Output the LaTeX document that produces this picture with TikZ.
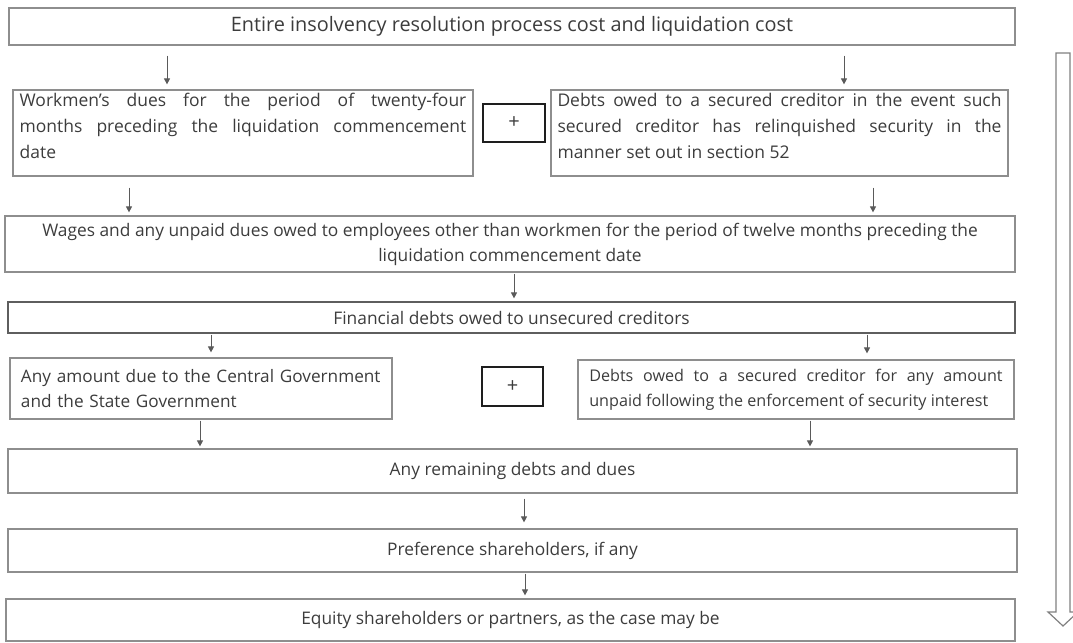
\documentclass[tikz,border=0pt]{standalone}
\usepackage{fontspec}
\setmainfont{Open Sans}
\usetikzlibrary{arrows.meta}

\definecolor{boxedge}{HTML}{8E8E8E}
\definecolor{darkedge}{HTML}{5E5E5E}
\definecolor{plusedge}{HTML}{1E1E1E}
\definecolor{arrowgray}{HTML}{5A5A5A}
\definecolor{txt}{HTML}{3C3C3C}

% a box given by its corners (x1,y1) and (x2,y2), in pixel units
\newcommand\flowbox[7]{%
  \node[#6, minimum width={(#4-#2)*0.75pt}, minimum height={(#5-#3)*0.75pt}]
    (#1) at ({(#2+#4)/2},{(#3+#5)/2}) {#7};}

\begin{document}
\begin{tikzpicture}[x=0.75pt, y=-0.75pt,
  every node/.style={inner sep=0pt, text=txt},
  stepbox/.style={draw=boxedge, line width=0.9pt, font=\fontsize{13pt}{19pt}\selectfont},
  darkbox/.style={stepbox, draw=darkedge},
  plusbox/.style={draw=plusedge, line width=0.9pt, font=\fontsize{15pt}{16pt}\selectfont},
  arr/.style={draw=arrowgray, line width=0.7pt, -{Triangle[width=4.5pt,length=4.5pt]}},
  bigarrow/.style={draw=boxedge!90!black, line width=0.9pt, fill=white}
]
\useasboundingbox (0,0) rectangle (1073,642);

% priority levels
\flowbox{b1}{9}{8}{1015}{45}{stepbox, font=\fontsize{14.9pt}{17pt}\selectfont}
  {Entire insolvency resolution process cost and liquidation cost}

\flowbox{b2l}{13}{90}{473}{176}{stepbox, text width=335pt, align=justify,
  font=\fontsize{13.1pt}{19.5pt}\selectfont}
  {Workmen’s dues for the period of twenty-four\linebreak
   months preceding the liquidation commencement\linebreak
   date\par\vspace*{10pt}}
\flowbox{p1}{483}{104}{545}{142}{plusbox}{+}
\flowbox{b2r}{551}{90}{1008}{176}{stepbox, text width=333pt, align=justify,
  font=\fontsize{13.1pt}{19.5pt}\selectfont}
  {Debts owed to a secured creditor in the event such\linebreak
   secured creditor has relinquished security in the\linebreak
   manner set out in section 52\par\vspace*{10pt}}

\flowbox{b3}{5}{216}{1015}{272}{stepbox, align=center,
  font=\fontsize{13pt}{18.75pt}\selectfont}
  {Wages and any unpaid dues owed to employees other than workmen for the period of twelve months preceding the\\
   liquidation commencement date}

\flowbox{b4}{8}{302}{1015}{333}{darkbox}
  {Financial debts owed to unsecured creditors}

\flowbox{b5l}{10}{358}{392}{419}{stepbox, text width=270pt, align=left,
  font=\fontsize{12.9pt}{18.75pt}\selectfont}
  {Any amount due to the Central Government\\ and the State Government}
\flowbox{p2}{482}{367}{543}{406}{plusbox}{+}
\flowbox{b5r}{578}{360}{1014}{419}{stepbox, text width=310pt, align=justify,
  font=\fontsize{12.1pt}{18.75pt}\selectfont}
  {Debts owed to a secured creditor for any amount\linebreak
   unpaid following the enforcement of security interest}

\flowbox{b6}{8}{449}{1017}{493}{stepbox}{Any remaining debts and dues}
\flowbox{b7}{8}{529}{1017}{572}{stepbox}{Preference shareholders, if any}
\flowbox{b8}{6}{599}{1015}{641}{stepbox}
  {Equity shareholders or partners, as the case may be}

% flow between the levels
\draw[arr, shorten <=7.5pt, shorten >=3.75pt] (b1.south -| 167,0) -- (b2l.north -| 167,0);
\draw[arr, shorten <=7.5pt, shorten >=3.75pt] (b1.south -| 844,0) -- (b2r.north -| 844,0);
\draw[arr, shorten <=8.25pt, shorten >=2.25pt] (b2l.south -| 129,0) -- (b3.north -| 129,0);
\draw[arr, shorten <=8.25pt, shorten >=2.25pt] (b2r.south -| 873,0) -- (b3.north -| 873,0);
\draw[arr, shorten <=0.75pt, shorten >=2.25pt] (b3.south -| 514,0) -- (b4.north -| 514,0);
\draw[arr, shorten <=0.75pt, shorten >=3.75pt] (b4.south -| 211,0) -- (b5l.north -| 211,0);
\draw[arr, shorten <=0.75pt, shorten >=4.5pt] (b4.south -| 867,0) -- (b5r.north -| 867,0);
\draw[arr, shorten <=0.75pt, shorten >=1.5pt] (b5l.south -| 200,0) -- (b6.north -| 200,0);
\draw[arr, shorten <=0.75pt, shorten >=1.5pt] (b5r.south -| 810,0) -- (b6.north -| 810,0);
\draw[arr, shorten <=3.75pt, shorten >=4.5pt] (b6.south -| 524,0) -- (b7.north -| 524,0);
\draw[arr, shorten <=0.75pt, shorten >=2.25pt] (b7.south -| 525,0) -- (b8.north -| 525,0);

% overall order of priority
\draw[bigarrow] (1056,53) -- (1070,53) -- (1070,612) -- (1078,612) -- (1063,626)
  -- (1048,612) -- (1056,612) -- cycle;
\end{tikzpicture}
\end{document}
